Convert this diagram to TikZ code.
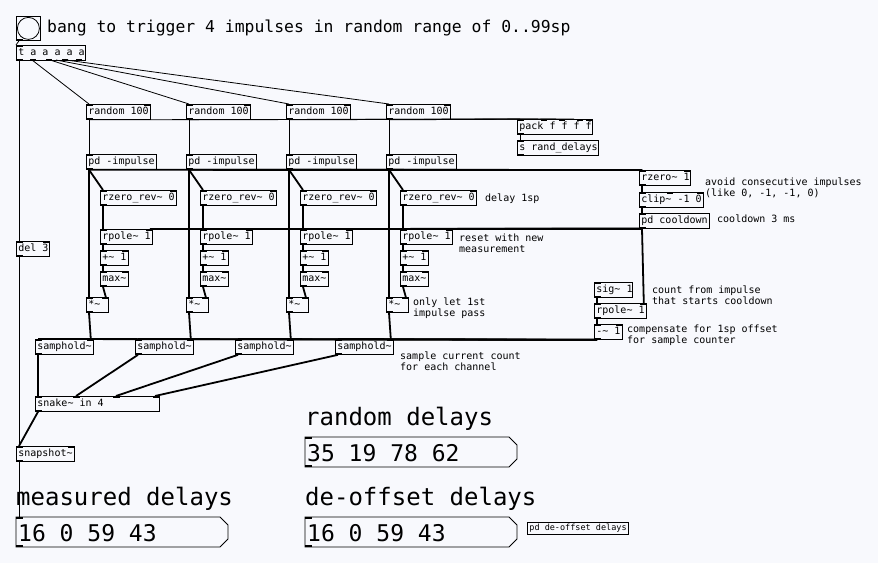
\documentclass[tikz,border=0pt]{standalone}
\usepackage{fontspec}
\newfontfamily\pdmono{DejaVu Sans Mono}[WordSpace={1,0,0}]
\usetikzlibrary{calc}
\begin{document}
\begin{tikzpicture}[x=1pt,y=-1pt,
  obj/.style={draw,line width=0.8pt,anchor=north west,inner xsep=2pt,inner ysep=0pt,minimum height=15pt,font=\pdmono\fontsize{10}{11}\selectfont,text height=8pt,text depth=2pt},
  cmt/.style={anchor=north west,inner sep=0pt,font=\pdmono\fontsize{10}{10.5}\selectfont,align=left},
  big/.style={anchor=north west,inner sep=0pt,font=\pdmono\fontsize{24}{24}\selectfont},
  sig/.style={line width=1.8pt},
  ctl/.style={line width=0.8pt}]
\useasboundingbox[fill={rgb,255:red,248;green,249;blue,253}] (0,0) rectangle (878,563);
\newcommand\pdo[5]{\node[obj] (#1) at (#2,#3) {\hbox to \dimexpr#4pt-4pt\relax{#5\hfil}};
  \fill (#1.north west) rectangle ++(7pt,-2pt);
  \fill (#1.south west) rectangle ++(7pt,2pt);}
\newcommand\rin[1]{\fill (#1.north east) rectangle ++(-7pt,-2pt);}
\newcommand\OUT[1]{($(#1.south west)+(3pt,0)$)}
\newcommand\IN[1]{($(#1.north west)+(3pt,0)$)}
\newcommand\RIN[1]{($(#1.north east)+(-3pt,0)$)}
% bang
\node[draw,line width=0.8pt,anchor=north west,minimum size=24pt,inner sep=0pt] (bang) at (16,16) {};
\draw[line width=0.8pt] (bang.center) circle (11pt);
\fill (bang.south west) rectangle ++(7pt,2pt);
\node[anchor=west,inner sep=0pt,font=\pdmono\fontsize{16.4}{17}\selectfont] (title) at (47,28) {bang to trigger 4 impulses in random range of 0..99sp};
% trigger
\pdo{trig}{16}{45}{69}{t a a a a a}
\foreach \xo in {30,46,62,76}{\fill ($(trig.south west)+(\xo pt-16pt,0)$) ++(0,2pt) rectangle ++(6pt,-2pt);}
\coordinate (t1) at (32,60); \coordinate (t2) at (50,60); \coordinate (t3) at (56,60); \coordinate (t4) at (66,60);
\draw[ctl] (bang.south west)++(3pt,0) -- (trig.north west);
\pdo{pack}{517}{119}{75}{pack f f f f}
\foreach \xo in {24,42,60}{\fill ($(pack.north west)+(\xo pt,0)$) rectangle ++(6pt,-2pt);}
\rin{pack}
\pdo{srd}{517}{140}{81}{s rand\_delays}
\draw[ctl] \OUT{pack} -- \IN{srd};
% right column
\pdo{rz}{639}{170}{51}{rzero\textasciitilde{} 1}\rin{rz}
\pdo{clip}{639}{192}{64}{clip\textasciitilde{} -1 0}\rin{clip}
\fill ($(clip.north west)+(28pt,0)$) rectangle ++(6pt,-2pt);
\pdo{cool}{639}{213}{70}{pd cooldown}
\pdo{sig}{594}{282}{38}{sig\textasciitilde{} 1}
\pdo{rp}{594}{303}{52}{rpole\textasciitilde{} 1}\rin{rp}
\pdo{minus}{594}{324}{28}{-\textasciitilde{} 1}\rin{minus}
\draw[sig] \OUT{rz} -- \IN{clip};
\draw[sig] \OUT{clip} -- \IN{cool};
\draw[sig] \OUT{sig} -- \IN{rp};
\draw[sig] \OUT{rp} -- \IN{minus};
\draw[sig] \OUT{cool} -- \RIN{rp};
% columns
\foreach \i in {0,1,2,3}{
  \pgfmathsetmacro\xa{86+100*\i}
  \pgfmathsetmacro\xb{100+100*\i}
  \pgfmathsetmacro\xs{35+100*\i}
  \pdo{rnd\i}{\xa}{104}{64}{random 100}\rin{rnd\i}
  \pdo{imp\i}{\xa}{154}{70}{pd -impulse}
  \pdo{rzr\i}{\xb}{190}{76}{rzero\_rev\textasciitilde{} 0}\rin{rzr\i}
  \pdo{rpl\i}{\xb}{229}{52}{rpole\textasciitilde{} 1}\rin{rpl\i}
  \pdo{add\i}{\xb}{250}{28}{+\textasciitilde{} 1}\rin{add\i}
  \pdo{mx\i}{\xb}{271}{28}{max\textasciitilde}\rin{mx\i}
  \pdo{mul\i}{\xa}{297}{22}{*\textasciitilde}\rin{mul\i}
  \pdo{sh\i}{\xs}{339}{58}{samphold\textasciitilde}\rin{sh\i}
  \draw[ctl] \OUT{rnd\i} -- \IN{imp\i};
  \draw[ctl] \OUT{rnd\i} -- ($(pack.north west)+(3pt+18pt*\i,0)$);
  \draw[sig] \OUT{imp\i} -- \IN{rzr\i};
  \draw[sig] \OUT{imp\i} -- \IN{mul\i};
  \draw[sig] \OUT{imp\i} -- \IN{rz};
  \draw[sig] \OUT{rzr\i} -- \IN{rpl\i};
  \draw[sig] \OUT{rpl\i} -- \IN{add\i};
  \draw[sig] \OUT{add\i} -- \IN{mx\i};
  \draw[sig] \OUT{mx\i} -- \RIN{mul\i};
  \draw[sig] \OUT{mul\i} -- \RIN{sh\i};
  \draw[sig] \OUT{cool} -- \RIN{rpl\i};
  \draw[sig] \OUT{minus} -- \IN{sh\i};
}
\draw[ctl] (t1) -- \IN{rnd0};
\draw[ctl] (t2) -- \IN{rnd1};
\draw[ctl] (t3) -- \IN{rnd2};
\draw[ctl] (t4) -- \IN{rnd3};
\pdo{del}{16}{241}{33}{del 3}\rin{del}
\pdo{snake}{35}{396}{124}{snake\textasciitilde{} in 4}
\foreach \xo in {38,78,118}{\fill ($(snake.north west)+(\xo pt,0)$) rectangle ++(7pt,-2pt);}
\coordinate (s2) at (76,396); \coordinate (s3) at (116,396); \coordinate (s4) at (155,396);
\pdo{snap}{16}{446}{58}{snapshot\textasciitilde}\rin{snap}
\draw[ctl] \OUT{trig} -- \IN{del};
\draw[ctl] \OUT{del} -- \IN{snap};
\draw[sig] \OUT{sh0} -- \IN{snake};
\draw[sig] \OUT{sh1} -- (s2);
\draw[sig] \OUT{sh2} -- (s3);
\draw[sig] \OUT{sh3} -- (s4);
\draw[sig] \OUT{snake} -- \IN{snap};
% comments
\node[cmt] (c1) at (705,178) {avoid consecutive impulses\\(like 0, -1, -1, 0)};
\node[cmt] (c2) at (485,194) {delay 1sp};
\node[cmt] (c3) at (717,215) {cooldown 3 ms};
\node[cmt] (c4) at (459,234) {reset with new\\measurement};
\node[cmt] (c5) at (652,286) {count from impulse\\that starts cooldown};
\node[cmt] (c6) at (413,298) {only let 1st\\impulse pass};
\node[cmt] (c7) at (627,325) {compensate for 1sp offset\\for sample counter};
\node[cmt] (c8) at (400,352) {sample current count\\for each channel};
% lists
\newcommand\lst[4]{\draw[line width=0.8pt] (#2,#3) coordinate (#1) -- ++(204,0) -- ++(8,8) -- ++(0,14) -- ++(-8,8) -- ++(-204,0) -- cycle;
  \fill (#2,#3) rectangle ++(7pt,-2pt); \fill (#2,#3+30) rectangle ++(7pt,2pt);
  \node[anchor=west,inner sep=0pt,font=\pdmono\fontsize{23}{23}\selectfont] at (#2+2,#3+16) {#4};}
\node[big] (l1) at (305,407) {random delays};
\lst{lr}{305}{437}{35 19 78 62}
\node[big] (l2) at (16,487) {measured delays};
\lst{lm}{16}{517}{16 0 59 43}
\node[big] (l3) at (305,487) {de-offset delays};
\lst{ld}{305}{517}{16 0 59 43}
\draw[ctl] \OUT{snap} -- ($(lm)+(3,0)$);
\node[draw,line width=0.8pt,anchor=north west,inner sep=2pt,font=\pdmono\fontsize{8.5}{9}\selectfont] (pdd) at (527,522) {pd de-offset delays};
\end{tikzpicture}
\end{document}
